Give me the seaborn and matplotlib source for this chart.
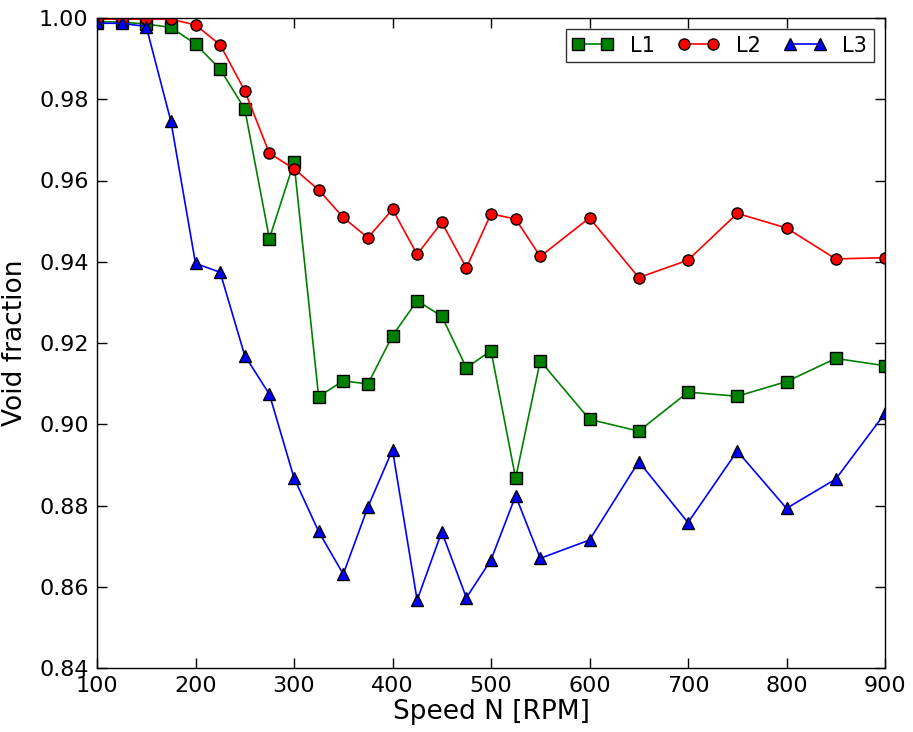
import pandas as pd
import matplotlib
matplotlib.use("Agg")
import matplotlib.pyplot as plt
import seaborn as sns

# ------------------------- Data -------------------------
speed = [100, 125, 150, 175, 200, 225, 250, 275, 300, 325, 350, 375, 400,
         425, 450, 475, 500, 525, 550, 600, 650, 700, 750, 800, 850, 900]

l1 = [0.9991, 0.9990, 0.9985, 0.9977, 0.9936, 0.9874, 0.9776, 0.9457, 0.9645,
      0.9068, 0.9107, 0.9099, 0.9218, 0.9304, 0.9266, 0.9139, 0.9181, 0.8867,
      0.9156, 0.9012, 0.8983, 0.9079, 0.9069, 0.9105, 0.9162, 0.9144]

l2 = [0.9997, 0.9997, 0.9997, 0.9997, 0.9983, 0.9934, 0.9821, 0.9667, 0.9629,
      0.9577, 0.9509, 0.9459, 0.9529, 0.9418, 0.9497, 0.9385, 0.9518, 0.9505,
      0.9413, 0.9508, 0.9361, 0.9404, 0.9519, 0.9483, 0.9407, 0.9410]

l3 = [0.9987, 0.9987, 0.9979, 0.9746, 0.9396, 0.9374, 0.9169, 0.9074, 0.8868,
      0.8736, 0.8631, 0.8796, 0.8937, 0.8567, 0.8735, 0.8573, 0.8666, 0.8824,
      0.8670, 0.8715, 0.8908, 0.8758, 0.8934, 0.8793, 0.8865, 0.9027]

series = [("L1", l1, "green", "s"), ("L2", l2, "red", "o"), ("L3", l3, "blue", "^")]

# ------------------------- Style -------------------------
sns.set_style("ticks")
plt.rcParams['font.family'] = ['DejaVu Sans']
plt.rcParams['xtick.direction'] = 'in'
plt.rcParams['ytick.direction'] = 'in'
plt.rcParams['text.color'] = 'black'
plt.rcParams['axes.labelcolor'] = 'black'
plt.rcParams['xtick.color'] = 'black'
plt.rcParams['ytick.color'] = 'black'

fig = plt.figure(figsize=(9.13, 7.32), dpi=100)
ax = fig.add_axes([97 / 913, 1 - 668 / 732, (885 - 97) / 913, (668 - 18) / 732])

for name, vals, col, mk in series:
    df = pd.DataFrame({"speed": speed, "void": vals})
    sns.lineplot(data=df, x="speed", y="void", ax=ax, color=col, marker=mk,
                 markersize=8, markeredgecolor="black", markeredgewidth=1,
                 linewidth=1.2, label=name)

ax.set_xlim(100, 900)
ax.set_ylim(0.84, 1.00)
ax.set_xticks(range(100, 901, 100))
ax.set_yticks([0.84, 0.86, 0.88, 0.90, 0.92, 0.94, 0.96, 0.98, 1.00])
ax.set_yticklabels([f"{v:.2f}" for v in ax.get_yticks()])
ax.tick_params(axis='both', which='major', labelsize=16, length=7, width=1,
               top=True, right=True, colors='black', pad=6)
for sp in ax.spines.values():
    sp.set_visible(True)
    sp.set_color('black')
    sp.set_linewidth(1)

ax.set_xlabel("Speed N [RPM]", fontsize=19, labelpad=2)
ax.set_ylabel("Void fraction", fontsize=19, labelpad=8)

leg = ax.legend(loc="upper right", ncol=3, numpoints=2, fontsize=15,
                fancybox=False, frameon=True, edgecolor='black',
                handlelength=2.0, handletextpad=0.8, columnspacing=1.1,
                borderaxespad=0.55, borderpad=0.3)
leg.get_frame().set_linewidth(1)

plt.savefig("out.png", dpi=100)
plt.close()
